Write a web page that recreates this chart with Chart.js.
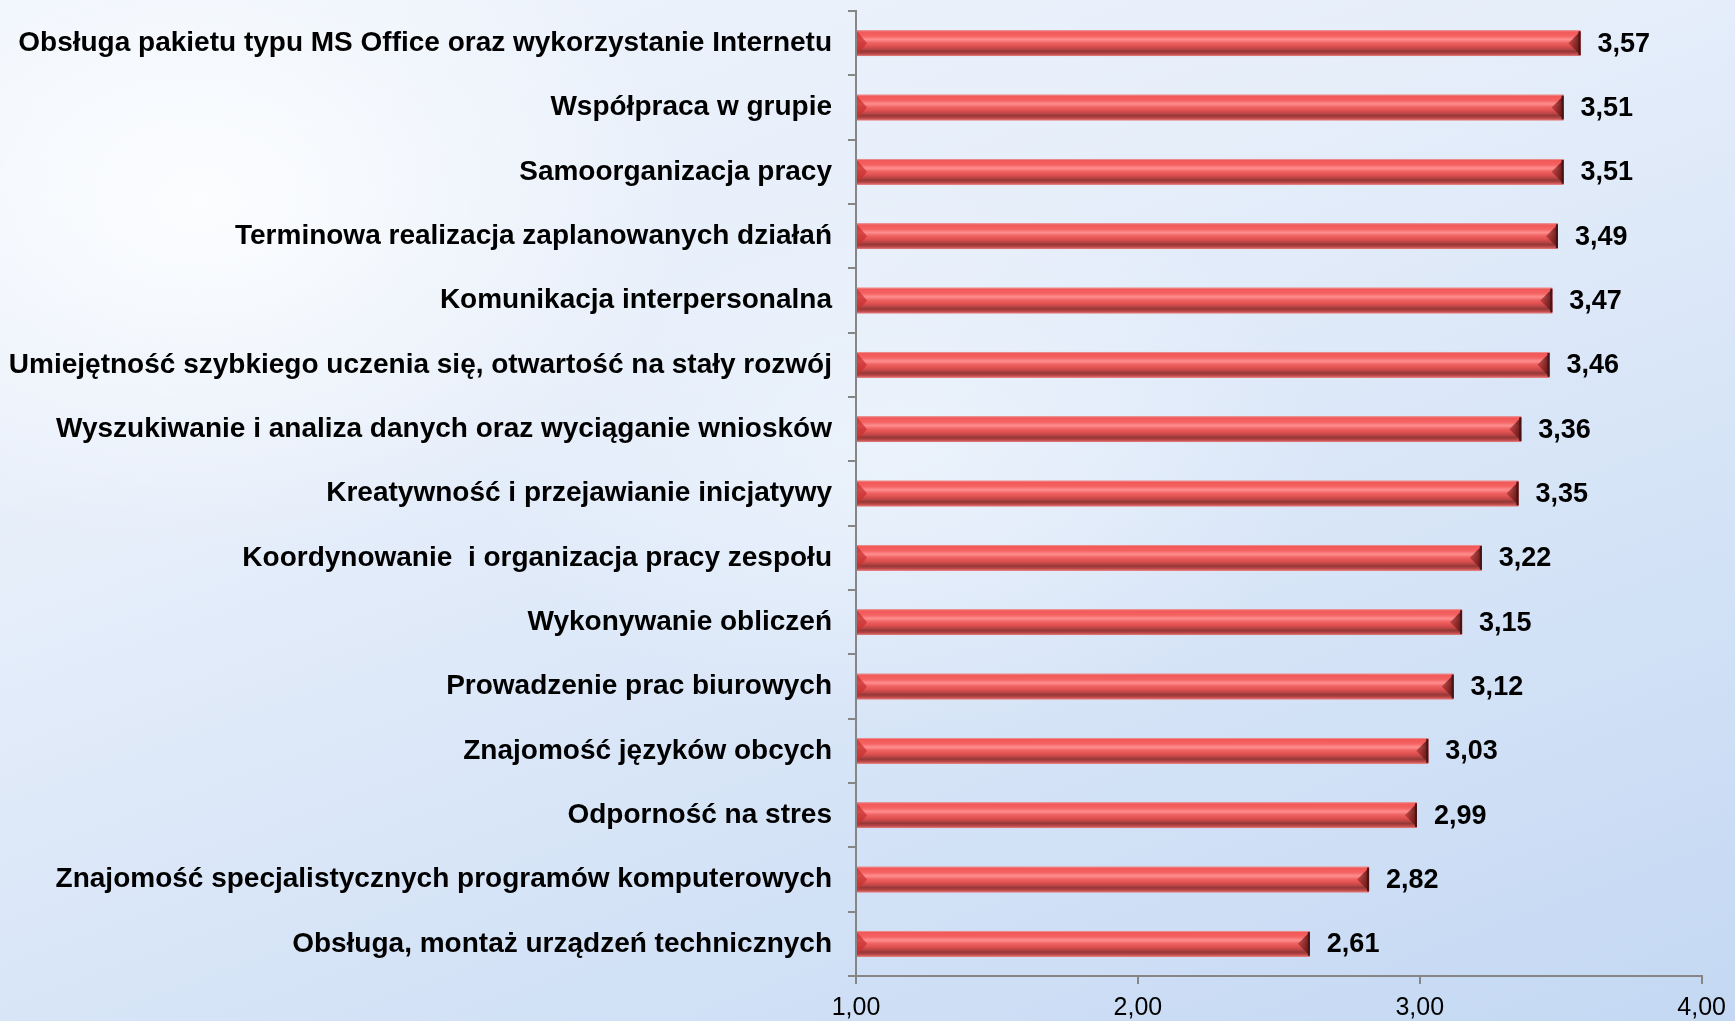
<!DOCTYPE html>
<html>
<head>
<meta charset="utf-8">
<script src="https://cdn.jsdelivr.net/npm/chart.js@4.4.0/dist/chart.umd.min.js"></script>
<style>
  html, body { margin: 0; padding: 0; overflow: hidden; }
  body {
    width: 1735px; height: 1021px;
    background:
      radial-gradient(ellipse 700px 500px at 200px 200px, rgba(255,255,255,0.85), rgba(255,255,255,0) 70%),
      radial-gradient(ellipse 600px 400px at 900px 450px, rgba(240,246,253,0.7), rgba(240,246,253,0) 70%),
      linear-gradient(160deg, #eef4fc 0%, #e6eefa 35%, #d6e4f7 65%, #c4d8f3 100%);
  }
  #wrap { position: absolute; left: 0; top: 0; width: 1735px; height: 1021px; }
</style>
</head>
<body>
<div id="wrap"><canvas id="c"></canvas></div>
<script>
const categories = [
  "Obsługa pakietu typu MS Office oraz wykorzystanie Internetu",
  "Współpraca w grupie",
  "Samoorganizacja pracy",
  "Terminowa realizacja zaplanowanych działań",
  "Komunikacja interpersonalna",
  "Umiejętność szybkiego uczenia się, otwartość na stały rozwój",
  "Wyszukiwanie i analiza danych oraz wyciąganie wniosków",
  "Kreatywność i przejawianie inicjatywy",
  "Koordynowanie  i organizacja pracy zespołu",
  "Wykonywanie obliczeń",
  "Prowadzenie prac biurowych",
  "Znajomość języków obcych",
  "Odporność na stres",
  "Znajomość specjalistycznych programów komputerowych",
  "Obsługa, montaż urządzeń technicznych"
];
const values = [3.57, 3.51, 3.51, 3.49, 3.47, 3.46, 3.36, 3.35, 3.22, 3.15, 3.12, 3.03, 2.99, 2.82, 2.61];
const axisMin = 1, axisMax = 4, axisStep = 1;

function fmt(v) { return v.toFixed(2).replace('.', ','); }

const barStyle = {
  id: 'barStyle',
  afterDatasetsDraw(chart) {
    const ctx = chart.ctx;
    const meta = chart.getDatasetMeta(0);
    meta.data.forEach((el, i) => {
      const p = el.getProps(['x', 'y', 'base', 'height'], true);
      const left = Math.min(p.x, p.base), right = Math.max(p.x, p.base);
      const top = p.y - p.height / 2, bottom = p.y + p.height / 2, h = p.height;
      ctx.save();
      const g = ctx.createLinearGradient(0, top, 0, bottom);
      g.addColorStop(0, '#e9a3a3');
      g.addColorStop(0.06, '#f25858');
      g.addColorStop(0.22, '#f46262');
      g.addColorStop(0.36, '#ff8e8e');
      g.addColorStop(0.48, '#f06464');
      g.addColorStop(0.62, '#e05050');
      g.addColorStop(0.74, '#b84444');
      g.addColorStop(0.82, '#933737');
      g.addColorStop(0.92, '#c04848');
      g.addColorStop(1, '#e38080');
      ctx.fillStyle = g;
      ctx.fillRect(left, top, right - left, h);
      // right bevel
      const bw = 12;
      const gr = ctx.createLinearGradient(right - bw, 0, right, 0);
      gr.addColorStop(0, 'rgba(150,40,40,0.55)');
      gr.addColorStop(1, 'rgba(90,20,20,0.95)');
      ctx.fillStyle = gr;
      ctx.beginPath();
      ctx.moveTo(right, top + 1);
      ctx.lineTo(right - bw, p.y);
      ctx.lineTo(right, bottom - 1);
      ctx.closePath();
      ctx.fill();
      ctx.fillStyle = '#4a1414';
      ctx.fillRect(right - 2, top + 1, 2, h - 2);
      // left bevel
      ctx.fillStyle = 'rgba(200,50,50,0.75)';
      ctx.beginPath();
      ctx.moveTo(left, top + 1);
      ctx.lineTo(left + 10, p.y);
      ctx.lineTo(left, bottom - 1);
      ctx.closePath();
      ctx.fill();
      // value label
      ctx.fillStyle = '#000';
      ctx.font = 'bold 27px "Liberation Sans", Arial, sans-serif';
      ctx.textAlign = 'left';
      ctx.textBaseline = 'middle';
      ctx.fillText(fmt(values[i]), right + 17, p.y + 1);
      ctx.restore();
    });
  }
};

new Chart(document.getElementById('c'), {
  type: 'bar',
  data: {
    labels: categories,
    datasets: [{
      data: values,
      base: axisMin,
      backgroundColor: '#ee5555',
      borderWidth: 0,
      barPercentage: 0.8,
      categoryPercentage: 0.5
    }]
  },
  options: {
    indexAxis: 'y',
    responsive: true,
    maintainAspectRatio: false,
    animation: false,
    layout: { padding: { left: 0, top: 11, right: 31, bottom: 0 } },
    plugins: { legend: { display: false }, tooltip: { enabled: false } },
    scales: {
      x: {
        type: 'linear',
        min: axisMin, max: axisMax,
        ticks: {
          stepSize: axisStep,
          callback: v => fmt(v),
          color: '#000',
          font: { family: '"Liberation Sans", Arial, sans-serif', size: 25 },
          padding: 9,
          maxRotation: 0
        },
        grid: { display: true, drawOnChartArea: false, drawTicks: true, tickLength: 8, color: '#868686', lineWidth: 2 },
        border: { display: true, color: '#868686', width: 2 },
        afterFit(scale) { scale.height = 45; }
      },
      y: {
        ticks: {
          color: '#000',
          font: { family: '"Liberation Sans", Arial, sans-serif', size: 28, weight: 'bold' },
          padding: 16,
          autoSkip: false
        },
        grid: { display: true, drawOnChartArea: false, drawTicks: true, tickLength: 8, color: '#868686', lineWidth: 2, offset: true },
        border: { display: true, color: '#868686', width: 2 },
        afterFit(scale) { scale.width = 856; scale.paddingTop = 0; scale.paddingBottom = 0; }
      }
    }
  },
  plugins: [barStyle]
});
</script>
</body>
</html>
